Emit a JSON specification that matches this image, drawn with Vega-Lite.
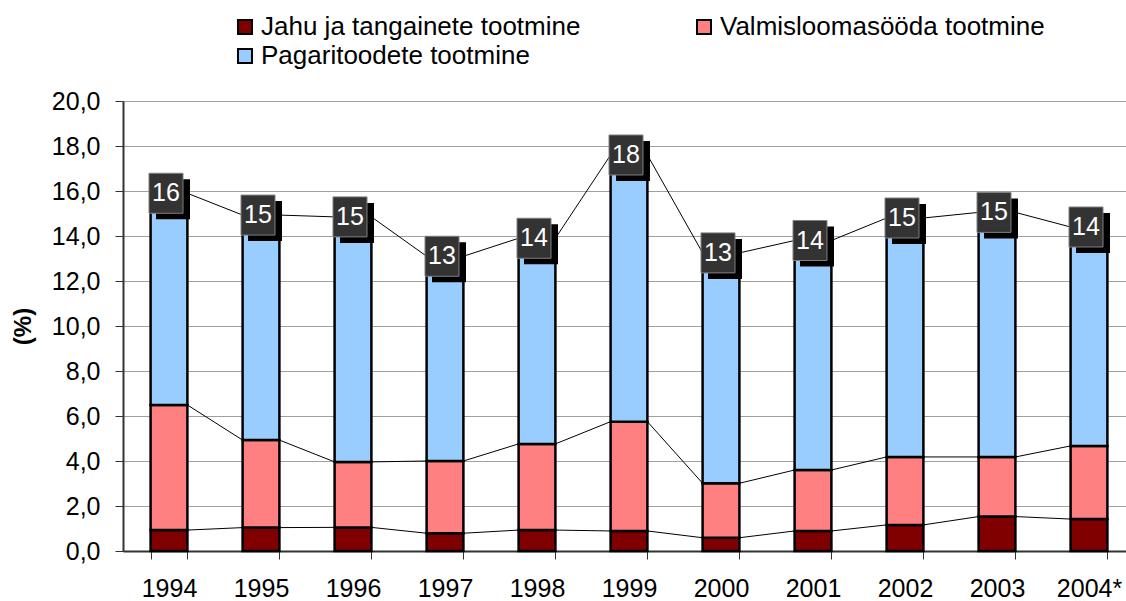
{
  "$schema": "https://vega.github.io/schema/vega-lite/v6.json",
  "width": 1003,
  "height": 450,
  "autosize": {"type": "none"},
  "padding": {"left": 123, "top": 101, "right": 0, "bottom": 50},
  "background": "white",
  "config": {"view": {"stroke": null}, "font": "Liberation Sans"},
  "datasets": {
    "prod": [
      {"year": "1994", "series": "Jahu ja tangainete tootmine", "order": 1, "value": 0.93},
      {"year": "1994", "series": "Valmisloomasööda tootmine", "order": 2, "value": 5.56},
      {"year": "1994", "series": "Pagaritoodete tootmine", "order": 3, "value": 9.41},
      {"year": "1995", "series": "Jahu ja tangainete tootmine", "order": 1, "value": 1.04},
      {"year": "1995", "series": "Valmisloomasööda tootmine", "order": 2, "value": 3.89},
      {"year": "1995", "series": "Pagaritoodete tootmine", "order": 3, "value": 10.0},
      {"year": "1996", "series": "Jahu ja tangainete tootmine", "order": 1, "value": 1.05},
      {"year": "1996", "series": "Valmisloomasööda tootmine", "order": 2, "value": 2.91},
      {"year": "1996", "series": "Pagaritoodete tootmine", "order": 3, "value": 10.89},
      {"year": "1997", "series": "Jahu ja tangainete tootmine", "order": 1, "value": 0.79},
      {"year": "1997", "series": "Valmisloomasööda tootmine", "order": 2, "value": 3.21},
      {"year": "1997", "series": "Pagaritoodete tootmine", "order": 3, "value": 9.1},
      {"year": "1998", "series": "Jahu ja tangainete tootmine", "order": 1, "value": 0.93},
      {"year": "1998", "series": "Valmisloomasööda tootmine", "order": 2, "value": 3.83},
      {"year": "1998", "series": "Pagaritoodete tootmine", "order": 3, "value": 9.14},
      {"year": "1999", "series": "Jahu ja tangainete tootmine", "order": 1, "value": 0.89},
      {"year": "1999", "series": "Valmisloomasööda tootmine", "order": 2, "value": 4.86},
      {"year": "1999", "series": "Pagaritoodete tootmine", "order": 3, "value": 11.85},
      {"year": "2000", "series": "Jahu ja tangainete tootmine", "order": 1, "value": 0.59},
      {"year": "2000", "series": "Valmisloomasööda tootmine", "order": 2, "value": 2.42},
      {"year": "2000", "series": "Pagaritoodete tootmine", "order": 3, "value": 10.24},
      {"year": "2001", "series": "Jahu ja tangainete tootmine", "order": 1, "value": 0.89},
      {"year": "2001", "series": "Valmisloomasööda tootmine", "order": 2, "value": 2.71},
      {"year": "2001", "series": "Pagaritoodete tootmine", "order": 3, "value": 10.2},
      {"year": "2002", "series": "Jahu ja tangainete tootmine", "order": 1, "value": 1.16},
      {"year": "2002", "series": "Valmisloomasööda tootmine", "order": 2, "value": 3.02},
      {"year": "2002", "series": "Pagaritoodete tootmine", "order": 3, "value": 10.62},
      {"year": "2003", "series": "Jahu ja tangainete tootmine", "order": 1, "value": 1.53},
      {"year": "2003", "series": "Valmisloomasööda tootmine", "order": 2, "value": 2.65},
      {"year": "2003", "series": "Pagaritoodete tootmine", "order": 3, "value": 10.87},
      {"year": "2004*", "series": "Jahu ja tangainete tootmine", "order": 1, "value": 1.42},
      {"year": "2004*", "series": "Valmisloomasööda tootmine", "order": 2, "value": 3.25},
      {"year": "2004*", "series": "Pagaritoodete tootmine", "order": 3, "value": 9.73}
    ]
  },
  "data": {"name": "prod"},
  "layer": [
    {
      "transform": [
        {"stack": "value", "groupby": ["year"], "sort": [{"field": "order", "order": "ascending"}], "as": ["v0", "v1"]},
        {"window": [{"op": "lead", "field": "year", "as": "next_year"}, {"op": "lead", "field": "v1", "as": "next_v1"}], "groupby": ["series"], "sort": [{"field": "year", "order": "ascending"}]},
        {"filter": "datum.next_year != null"}
      ],
      "mark": {"type": "rule", "color": "black", "strokeWidth": 1},
      "encoding": {
        "x": {
          "field": "year", "type": "ordinal", "bandPosition": 1,
          "scale": {"type": "band", "range": [0, 1012], "paddingInner": 0.6, "paddingOuter": 0.3},
          "axis": {"title": null, "labelAngle": 0, "labelFontSize": 25, "labelColor": "black", "labelPadding": 17, "tickBand": "extent", "tickSize": 8, "tickColor": "#333333", "domainColor": "#333333", "domainWidth": 2, "grid": false}
        },
        "x2": {"field": "next_year", "bandPosition": 0},
        "y": {
          "field": "v1", "type": "quantitative",
          "scale": {"domain": [0, 20], "nice": false},
          "axis": {
            "title": "(%)", "titleFontSize": 24, "titleFontWeight": "bold", "titleColor": "black", "titlePadding": 16,
            "values": [0, 2, 4, 6, 8, 10, 12, 14, 16, 18, 20],
            "labelExpr": "replace(format(datum.value, '.1f'), '.', ',')",
            "labelFontSize": 25, "labelColor": "black", "labelPadding": 15,
            "tickSize": 8, "tickColor": "#333333", "domainColor": "#333333", "domainWidth": 2,
            "grid": true, "gridColor": "#a0a0a0", "gridWidth": 1
          }
        },
        "y2": {"field": "next_v1"}
      }
    },
    {
      "mark": {"type": "bar", "stroke": "black", "strokeWidth": 2.5},
      "encoding": {
        "x": {"field": "year", "type": "ordinal"},
        "y": {"field": "value", "type": "quantitative", "stack": "zero"},
        "color": {
          "field": "series", "type": "nominal",
          "scale": {"domain": ["Jahu ja tangainete tootmine", "Valmisloomasööda tootmine", "Pagaritoodete tootmine"], "range": ["#800000", "#FF8080", "#99CCFF"]},
          "legend": {"title": null, "orient": "none", "legendX": 109, "legendY": -87, "direction": "horizontal", "columns": 2, "symbolType": "square", "symbolSize": 196, "symbolStrokeColor": "black", "symbolStrokeWidth": 2, "symbolOpacity": 1, "labelFontSize": 26, "labelColor": "black", "labelOffset": 3, "labelLimit": 0, "columnPadding": 110, "rowPadding": 3, "padding": 0}
        },
        "order": {"field": "order", "type": "quantitative"}
      }
    },
    {
      "transform": [{"aggregate": [{"op": "sum", "field": "value", "as": "total"}], "groupby": ["year"]}],
      "encoding": {
        "x": {"field": "year", "type": "ordinal"},
        "y": {"field": "total", "type": "quantitative"}
      },
      "layer": [
        {"mark": {"type": "point", "shape": "M-0.85,-1L0.85,-1L0.85,1L-0.85,1Z", "size": 1600, "filled": true, "fill": "black", "opacity": 1, "strokeWidth": 0, "xOffset": 4, "yOffset": 6}},
        {"mark": {"type": "point", "shape": "M-0.85,-1L0.85,-1L0.85,1L-0.85,1Z", "size": 1600, "filled": true, "fill": "#333333", "stroke": "#808080", "strokeWidth": 1, "opacity": 1, "xOffset": -3}},
        {"mark": {"type": "text", "color": "white", "fontSize": 25, "xOffset": -3, "baseline": "middle", "align": "center"}, "encoding": {"text": {"field": "total", "type": "quantitative", "format": ".0f"}}}
      ]
    }
  ]
}
